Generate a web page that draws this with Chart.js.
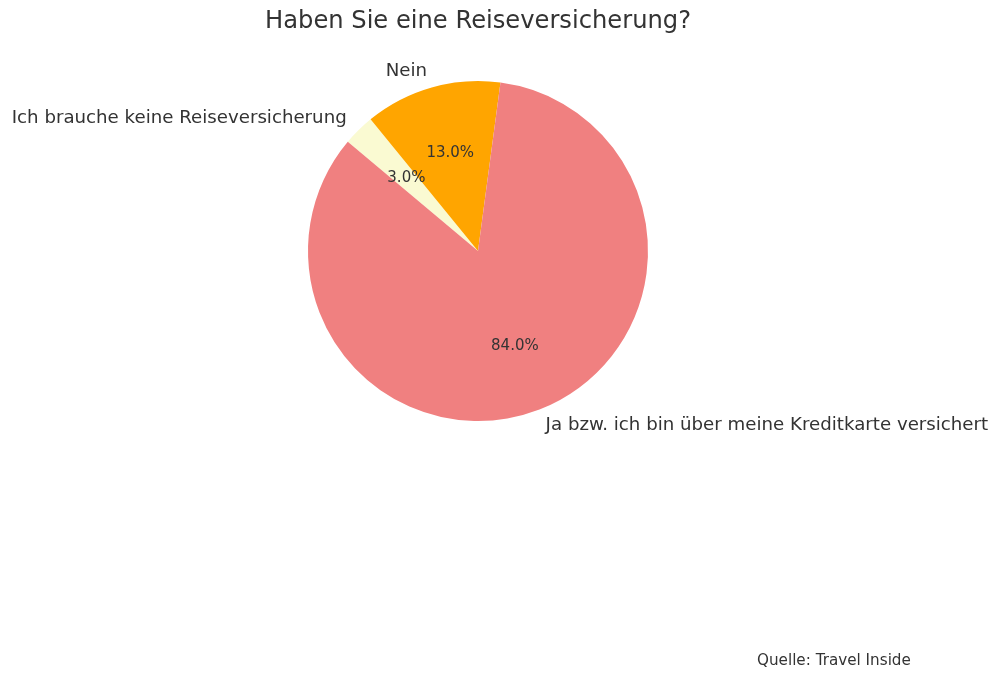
<!DOCTYPE html>
<html>
<head>
<meta charset="utf-8">
<script src="https://cdn.jsdelivr.net/npm/chart.js@4"></script>
<style>
  html, body { margin: 0; padding: 0; background: #fff; }
  #wrap { width: 1000px; height: 680px; }
</style>
</head>
<body>
<div id="wrap"><canvas id="chart" width="1000" height="680"></canvas></div>
<script>
// Data (matplotlib order, counter-clockwise from 140 deg)
const categories = ['Ja bzw. ich bin über meine Kreditkarte versichert', 'Nein', 'Ich brauche keine Reiseversicherung'];
const shares = [84, 13, 3];
const sliceColors = ['#F08080', '#FFA500', '#FAFAD2'];
const titleText = 'Haben Sie eine Reiseversicherung?';
const sourceText = 'Quelle: Travel Inside';

// Chart.js draws clockwise, so reverse the order to get the same layout
const labels = categories.slice().reverse();
const values = shares.slice().reverse();
const colors = sliceColors.slice().reverse();

const textColor = '#333333';
const fontFamily = '"DejaVu Sans", sans-serif';

// draws the outside labels, the percentages, title and source
const pieText = {
  id: 'pieText',
  afterDatasetsDraw(chart) {
    const ctx = chart.ctx;
    const meta = chart.getDatasetMeta(0);
    const total = values.reduce((a, b) => a + b, 0);
    ctx.save();
    ctx.fillStyle = textColor;
    meta.data.forEach((arc, i) => {
      const mid = (arc.startAngle + arc.endAngle) / 2;
      const r = arc.outerRadius;
      const cx = Math.cos(mid), cy = Math.sin(mid);

      // category label at 1.1 r
      ctx.font = '18.2px ' + fontFamily;
      ctx.textBaseline = 'middle';
      ctx.textAlign = cx >= 0 ? 'left' : 'right';
      ctx.fillText(labels[i], arc.x + cx * r * 1.1, arc.y + cy * r * 1.1);

      // percentage at 0.6 r
      ctx.font = '15px ' + fontFamily;
      ctx.textAlign = 'center';
      const pct = (values[i] / total * 100).toFixed(1) + '%';
      ctx.fillText(pct, arc.x + cx * r * 0.6, arc.y + cy * r * 0.6);
    });

    ctx.font = '24.2px ' + fontFamily;
    ctx.textAlign = 'center';
    ctx.textBaseline = 'middle';
    ctx.fillText(titleText, 478, 22);

    ctx.font = '15.2px ' + fontFamily;
    ctx.textAlign = 'left';
    ctx.fillText(sourceText, 757, 661);
    ctx.restore();
  }
};

new Chart(document.getElementById('chart'), {
  type: 'pie',
  data: {
    labels: labels,
    datasets: [{
      data: values,
      backgroundColor: colors,
      borderWidth: 0,
      hoverOffset: 0
    }]
  },
  options: {
    responsive: false,
    animation: false,
    rotation: -50,
    layout: { padding: { left: 308, right: 352, top: 81, bottom: 259 } },
    plugins: {
      legend: { display: false },
      tooltip: { enabled: false },
      title: { display: false }
    }
  },
  plugins: [pieText]
});
</script>
</body>
</html>
